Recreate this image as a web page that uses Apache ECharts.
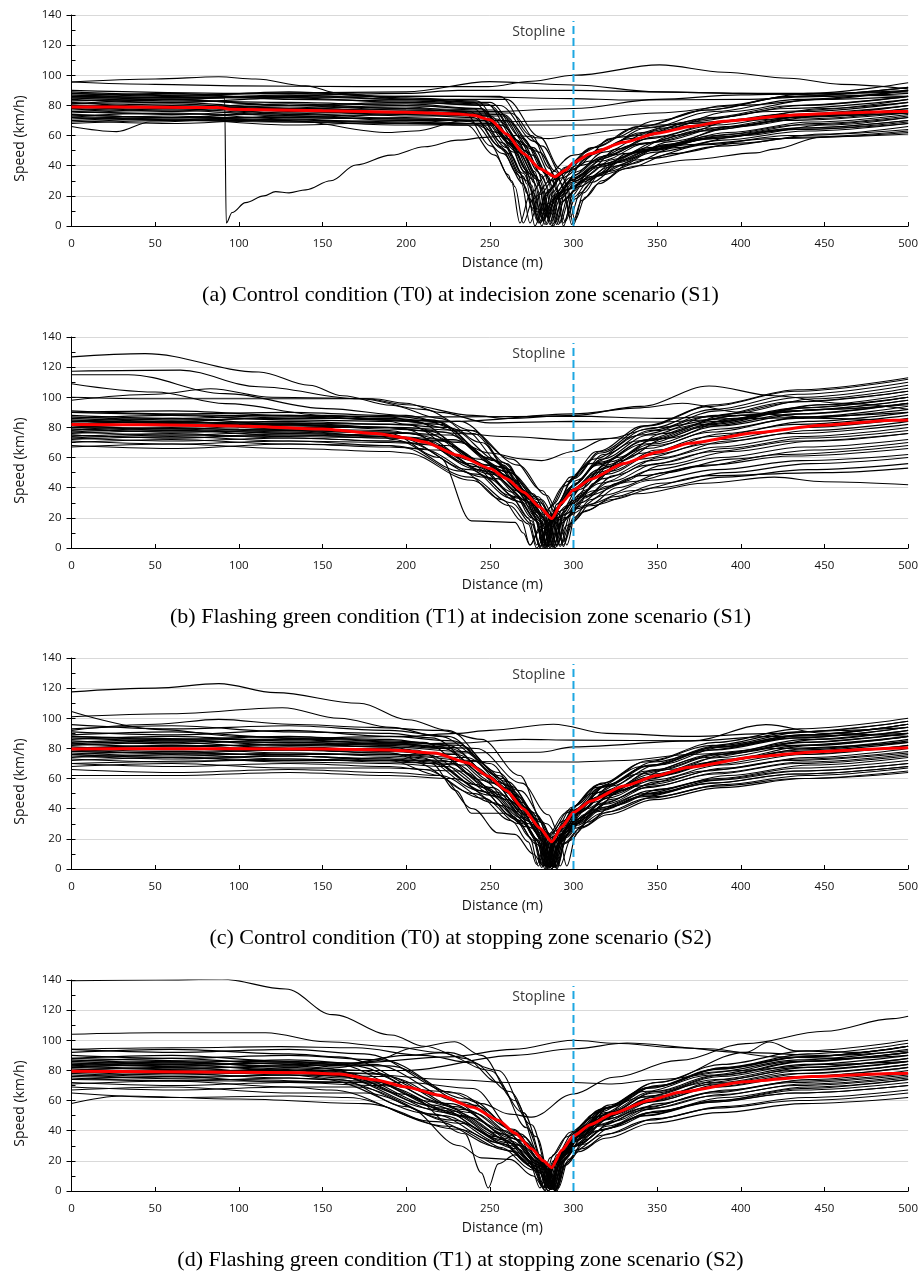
<!DOCTYPE html>
<html><head><meta charset="utf-8">
<script src="https://cdn.jsdelivr.net/npm/echarts@6/dist/echarts.min.js"></script>
<style>html,body{margin:0;padding:0;background:#fff}#c{width:921px;height:1281px}</style>
</head><body><div id="c"></div>
<script>
// ---------- texts ----------
const CAPTIONS = [
  "(a) Control condition (T0) at indecision zone scenario (S1)",
  "(b) Flashing green condition (T1) at indecision zone scenario (S1)",
  "(c) Control condition (T0) at stopping zone scenario (S2)",
  "(d) Flashing green condition (T1) at stopping zone scenario (S2)"
];
const X_NAME = "Distance (m)";
const Y_NAME = "Speed (km/h)";
const STOPLINE_TEXT = "Stopline";
const STOPLINE_X = 300;
const STOPLINE_TOP = 136;
const STOPLINE_LABEL_Y = 129;
const X_MIN = 0, X_MAX = 500, X_STEP = 50;
const Y_MIN = 0, Y_MAX = 140, Y_STEP = 20, Y_MINOR = 10;

// ---------- data: each run = flat list [distance, speed, distance, speed, ...] ----------
// (a) T0, S1
const RUNS_A = [
 [0,88, 60,86, 130,89, 200,85, 242,83, 261,58, 272,37, 275,27, 280,2, 286,24, 296,39, 312,52, 340,66, 380,77, 430,86, 500,92],
 [0,86, 60,88, 130,84, 200,83, 248,81, 266,57, 277,36, 279,30, 284,1, 290,23, 300,38, 316,51, 344,65, 384,76, 434,84, 500,90],
 [0,84, 60,82, 130,85, 200,82, 250,80, 268,56, 279,36, 281,30, 286,3, 292,22, 302,36, 318,49, 346,62, 386,72, 436,80, 500,86],
 [0,83, 60,84, 130,80, 200,81, 245,78, 261.5,55, 271.4,35, 273,30, 278,4, 284,22, 294,35, 310,48, 338,60, 378,71, 428,78, 500,84],
 [0,82, 60,79, 130,81, 200,78, 252,77, 270,54, 281,34, 283,29, 288,0, 294,21, 304,34, 320,47, 348,59, 388,69, 438,76, 500,82],
 [0,81, 60,82, 130,78, 200,79, 238,76, 256,53, 267,34, 269,28, 274,2, 280,21, 290,34, 306,46, 334,58, 374,67, 424,74, 500,80],
 [0,80, 60,78, 130,80, 200,77, 255,76, 273,53, 284,34, 286,28, 291,1, 297,20, 307,33, 323,44, 351,56, 391,66, 441,73, 500,78],
 [0,79, 60,81, 130,77, 200,76, 247,75, 264.5,53, 275,34, 277,28, 282,3, 288,20, 298,32, 314,44, 342,55, 382,65, 432,72, 500,77],
 [0,78, 60,76, 130,79, 200,75, 243,74, 260,52, 270,33, 272,28, 277,0, 283,20, 293,32, 309,43, 337,54, 377,63, 427,70, 500,75],
 [0,77, 60,79, 130,75, 200,76, 258,74, 276,52, 287,33, 289,27, 294,2, 300,19, 310,31, 326,42, 354,53, 394,61, 444,68, 500,73],
 [0,76, 60,74, 130,77, 200,73, 250,73, 267.5,51, 278,33, 280,27, 285,5, 291,19, 301,30, 317,41, 345,52, 385,60, 435,67, 500,72],
 [0,75, 60,77, 130,73, 200,74, 240,72, 258,51, 269,32, 272,22, 276,10, 284,8, 290,20, 300,31, 316,41, 344,51, 384,59, 434,65, 500,70],
 [0,74, 60,72, 130,75, 200,71, 254,71, 271.5,50, 282,32, 284,26, 289,2, 295,18, 305,29, 321,39, 349,49, 389,57, 439,63, 500,68],
 [0,73, 60,75, 130,71, 200,72, 246,70, 264.5,49, 275.6,31, 278,26, 283,1, 289,18, 299,29, 315,39, 343,50, 383,58, 433,64, 500,69],
 [0,72, 60,70, 130,73, 200,70, 260,70, 279.5,49, 291,31, 294,25, 299,1, 305,17, 315,28, 331,38, 359,48, 399,55, 449,61, 500,66],
 [0,71, 60,73, 130,69, 200,70, 244,68, 261.5,48, 272,30, 274,26, 279,2, 285,15, 295,24, 311,33, 339,44, 379,54, 429,60, 500,64],
 [0,70, 60,68, 130,71, 200,68, 252,68, 269.5,48, 280,30, 282,25, 287,0, 293,16, 303,26, 319,36, 347,45, 387,53, 437,59, 500,63],
 [0,69, 60,71, 130,67, 200,69, 236,67, 253,47, 263,30, 265,26, 270,2, 276,18, 286,30, 302,40, 330,48, 370,54, 420,58, 500,62],
 [0,68, 60,70, 130,69, 200,67, 256,67, 275.5,47, 287,30, 290,24, 295,3, 301,18, 311,29, 327,40, 355,54, 395,66, 445,74, 500,80],
 [0,89, 60,87, 130,88, 200,86, 256,86, 275,60, 286,38, 289,31, 294,0, 300,23, 310,38, 326,51, 354,65, 394,76, 444,84, 500,90],
 [0,87, 60,85, 130,86, 200,84, 260,84, 280,59, 292,38, 295,30, 300,1, 306,22, 316,35, 332,48, 360,60, 400,71, 450,78, 500,84],
 [0,85, 60,83, 130,82, 200,80, 240,78, 258,55, 268,35, 271,26, 275,12, 285,10, 291,22, 301,34, 317,46, 345,58, 385,67, 435,74, 500,80],
 [0,81, 60,84, 130,80, 200,82, 256,80, 277,56, 289.6,36, 293,28, 298,6, 304,22, 314,33, 330,44, 358,56, 398,66, 448,73, 500,78],
 [0,79, 60,77, 130,80, 200,78, 234,76, 251,53, 261,34, 263,29, 268,2, 274,21, 284,34, 300,47, 328,59, 368,69, 418,76, 500,82],
 [0,76, 60,78, 130,74, 200,75, 248,73, 266,51, 277,33, 279,27, 284,6, 290,20, 300,32, 316,43, 344,55, 384,64, 434,71, 500,76],
 [0,74, 60,72, 130,76, 200,75, 262,75, 281.5,53, 293,34, 296,27, 301,4, 307,19, 317,30, 333,41, 361,52, 401,60, 451,67, 500,72],
 [0,86, 60,84, 130,87, 200,84, 250,82, 270,58, 282,37, 285,29, 290,1, 296,28, 306,44, 322,58, 350,70, 390,80, 440,88, 500,95],
 [0,78, 60,80, 130,78, 200,80, 244,78, 262.5,55, 273.6,35, 276,29, 281,0, 287,22, 297,36, 313,49, 341,62, 381,72, 431,80, 500,86],
 [0,73, 60,71, 130,72, 200,74, 258,73, 275,51, 285,33, 287,27, 292,2, 298,19, 308,31, 324,42, 352,53, 392,62, 442,69, 500,74],
 [0,70, 60,72, 130,72, 200,71, 248,70, 267,49, 278,31, 281,25, 286,1, 292,18, 302,29, 318,40, 346,50, 386,59, 436,65, 500,70],
 [0,66, 27,62.6, 47,69, 100,71, 150,70, 200,69, 240,68, 258,48, 270,28, 274,18, 280,2, 286,14, 296,24, 312,33, 340,40, 370,44, 409,48.5, 420,51, 448,59, 500,61],
 [0,74, 60,72, 130,70, 190,62, 205,63, 235,70, 255,62, 270,35, 276,22, 282,4, 288,18, 298,30, 314,40, 342,50, 382,58, 432,64, 500,68],
 [0,95.5, 50,97.5, 88,99, 110,97.5, 140,93, 160,88, 200,84, 240,82, 260,58, 271,36, 274,28, 279,4, 285,24, 295,39, 311,52, 339,66, 379,77, 429,86, 500,92],
 [0,95.5, 50,94, 100,93, 171,92.5, 249,92.5, 275,96, 300,100, 351.5,106.9, 390,102, 428.7,98, 460,94, 500,91],
 [0,85, 50,85, 91.5,85, 92.5,2, 96,9, 104,15.5, 115,20, 122,22.8, 130,22, 140,24, 155,30, 170,40.5, 191,47, 211,52.6, 231,57, 249,59, 265,60, 285,58, 300,60, 330,64, 370,68, 420,72, 460,74, 500,75],
 [0,88, 100,86, 200,88, 231,90, 300,90, 350,89, 400,88, 450,87, 500,86],
 [0,90, 100,88, 200,89, 250,95.8, 300,93.6, 350,89, 400,88, 450,88, 500,89],
 [0,72, 100,70, 200,68, 231,67, 300,67, 350,67, 400,70, 450,73, 500,75],
 [0,76, 100,74, 200,71, 250,69, 300,70, 350,75, 400,80, 450,84, 500,86],
 [0,80, 100,78, 200,77, 250,76, 300,78, 350,84, 400,87, 450,88, 500,90],
 [0,86, 100,85, 200,86, 231,86, 300,84.5, 330,83.6, 400,84, 450,86, 500,88]
];
const MEAN_A = [0,79, 50,78.8, 88,78.6, 96,77.4, 150,76.5, 200,75.5, 231,74.3, 240,73.5, 250.5,70.4, 260,61, 270.3,48, 280,38, 289,32.7, 295,37, 300,42, 310,48, 330,55.5, 350,61.5, 370,66, 390,69.5, 430,73.5, 460,75, 491,75.9, 500,76];

// (b) T1, S1
const RUNS_B = [
 [0,91, 60,89, 130,90, 190,88, 215,85, 249.5,60, 270,38, 279,23, 284,1, 290,29, 300,47, 316,64, 344,81, 384,95, 434,105, 500,113],
 [0,90, 60,91, 130,88, 190,87, 205,84, 243.5,59, 266.6,38, 277,21, 282,0, 288,29, 298,47, 314,64, 342,81, 382,94, 432,104, 500,112],
 [0,88, 60,86, 130,88, 190,85, 220,82, 253,58, 272.8,37, 281,23, 286,2, 292,28, 302,45, 318,62, 346,78, 386,91, 436,100, 500,108],
 [0,86, 60,88, 130,85, 190,84, 200,82, 240,58, 264,37, 275,20, 280,1, 286,27, 296,44, 312,59, 340,75, 380,87, 430,97, 500,104],
 [0,85, 60,83, 130,84, 190,82, 225,80, 257,57, 276,36, 284,22, 289,0, 295,26, 305,42, 321,57, 349,72, 389,84, 439,93, 500,100],
 [0,84, 60,86, 130,82, 190,80, 198,79, 238,56, 262,35, 273,20, 278,2, 284,25, 294,41, 310,56, 338,71, 378,82, 428,91, 500,98],
 [0,83, 60,81, 130,83, 190,80, 212,78, 249.5,55, 272,35, 282,20, 287,1, 293,25, 303,40, 319,55, 347,69, 387,81, 437,89, 500,96],
 [0,82, 60,84, 130,81, 190,80, 208,78, 248,55, 272,35, 283,20, 288,1, 294,24, 304,39, 320,54, 348,68, 388,79, 438,87, 500,94],
 [0,81, 60,79, 130,82, 190,79, 222,77, 256,54, 276.4,34, 285,21, 290,2, 296,23, 306,38, 322,51, 350,65, 390,76, 440,84, 500,90],
 [0,80, 60,82, 130,79, 190,78, 202,76, 242,54, 266,34, 277,19, 282,1, 288,23, 298,37, 314,50, 342,63, 382,74, 432,82, 500,88],
 [0,79, 60,77, 130,78, 190,77, 214,75, 251,53, 273,34, 283,19, 288,0, 294,22, 304,36, 320,49, 348,62, 388,72, 438,80, 500,86],
 [0,78, 60,80, 130,77, 190,77, 226,75, 259,53, 279,34, 287,21, 292,2, 298,22, 308,35, 324,48, 352,60, 392,71, 442,78, 500,84],
 [0,77, 60,75, 130,77, 190,74, 196,73, 238,52, 263,33, 275,18, 280,0, 286,21, 296,34, 312,47, 340,59, 380,69, 430,76, 500,82],
 [0,76, 60,78, 130,75, 190,74, 210,72, 248,51, 271,32, 281,18, 286,1, 292,21, 302,34, 318,46, 346,58, 386,67, 436,74, 500,80],
 [0,75, 60,73, 130,75, 190,73, 220,71, 255,50, 276,32, 285,19, 290,1, 296,20, 306,33, 322,44, 350,56, 390,66, 440,73, 500,78],
 [0,74, 60,76, 130,73, 190,71, 200,70, 242,49, 267,31, 279,17, 284,0, 290,20, 300,32, 316,43, 344,55, 384,64, 434,71, 500,76],
 [0,73, 60,71, 130,73, 190,71, 214,69, 251,49, 273,31, 283,18, 288,1, 294,19, 304,30, 320,41, 348,52, 388,60, 438,67, 500,72],
 [0,72, 60,74, 130,71, 190,70, 224,68, 259,48, 280,30, 289,18, 294,2, 300,18, 310,29, 326,40, 354,50, 394,59, 444,65, 500,70],
 [0,71, 60,69, 130,71, 190,68, 196,67, 238,47, 263,30, 275,16, 280,1, 286,17, 296,28, 312,38, 340,48, 380,55, 430,61, 500,66],
 [0,70, 60,72, 130,69, 190,68, 208,66, 247,47, 270,30, 281,17, 286,0, 292,16, 302,26, 318,35, 346,45, 386,52, 436,58, 500,62],
 [0,68, 60,66, 130,69, 190,67, 218,65, 254,46, 275.6,29, 285,17, 290,2, 296,15, 306,24, 322,32, 350,40, 390,47, 440,52, 500,56],
 [0,67, 60,69, 130,66, 190,64, 200,63, 239,45, 262,28, 273,16, 278,0, 284,12, 294,20, 310,28, 338,36, 378,43, 420,47, 450,44, 500,42],
 [0,80, 60,78, 130,79, 190,76, 220,60, 239,18, 265,17, 270,10, 274,2, 280,12, 290,20, 306,28, 334,38, 381,48, 450,50, 500,53],
 [0,86, 60,84, 130,87, 190,85, 232,84, 263,59, 281.6,38, 289,24, 294,1, 300,28, 310,45, 326,60, 354,76, 394,89, 444,99, 500,106],
 [0,82, 60,84, 130,80, 190,80, 238,78, 267,55, 284,35, 291,23, 296,2, 302,27, 312,43, 328,58, 356,73, 396,86, 446,95, 500,102],
 [0,79, 60,77, 130,78, 185,74, 192,72, 233,51, 257.6,32, 269,18, 274,2, 280,14, 290,24, 306,34, 334,44, 374,54, 424,62, 500,68],
 [0,73, 60,75, 130,74, 190,73, 230,71, 262,50, 281,32, 289,20, 294,4, 300,20, 310,32, 326,43, 354,55, 394,64, 444,71, 500,76],
 [0,87, 60,85, 130,86, 190,86, 218,84, 251,59, 271,38, 279,23, 284,1, 290,29, 300,46, 316,63, 344,79, 384,92, 434,102, 500,110],
 [0,77, 60,79, 130,76, 190,75, 204,73, 243.5,52, 267,33, 278,18, 283,0, 289,24, 299,39, 315,52, 343,66, 383,77, 433,86, 500,92],
 [0,75, 60,73, 130,76, 190,74, 228,72, 260,51, 279,32, 287,20, 292,1, 298,16, 308,25, 324,34, 352,43, 392,50, 442,56, 500,60],
 [0,126.8, 44,129, 112,116.8, 142,108, 162,101, 191,94.7, 220,86, 245,70, 265,45, 278,22, 285,1, 291,27, 301,43, 317,59, 345,75, 385,88, 435,97, 500,104],
 [0,117.3, 65,118, 112,107, 172,99, 210,92, 240,78, 260,56, 274,32, 279,20, 284,2, 290,26, 300,42, 316,57, 344,72, 384,84, 434,93, 500,100],
 [0,115, 34,115, 92,102.4, 152,92.5, 200,88, 235,78, 258,55, 272,32, 277,20, 282,2, 288,25, 298,40, 314,55, 342,69, 382,81, 432,89, 500,96],
 [0,109, 50,103.5, 92,95.8, 152,88, 200,84, 240,76, 262,52, 274,30, 278,18, 283,2, 289,25, 299,41, 315,56, 343,71, 383,82, 433,91, 500,98],
 [0,100, 50,99, 100,99, 176,99, 200,95, 240,88, 260,86, 300,88, 340,94, 381,107.5, 420,101, 460,96, 500,92],
 [0,98, 50,102, 83,105.7, 120,100, 180,99, 200,96, 220,90, 250,83, 300,84, 350,83.6, 400,86, 500,90],
 [0,90, 100,88, 200,87, 230,87, 300,87.5, 350,86, 400,88, 450,92, 500,95],
 [0,84, 100,83, 200,82, 230,84, 300,89, 340,93, 365,96, 400,90, 450,86, 500,84],
 [0,80, 100,79, 200,76, 231,70, 250,63, 270,59, 281,58, 300,64, 320,72.6, 350,80, 400,88, 450,92, 500,96],
 [0,84, 100,82, 200,80, 231,76, 260,74, 300,71.5, 330,73, 350,78, 400,88, 450,95, 500,100]
];
const MEAN_B = [0,81.9, 50,81.7, 100,81, 150,79, 182,75.9, 200,73, 211,70.4, 231,61.5, 250.5,52.6, 260,46, 270.3,37, 280,27, 287,19.5, 293,30, 300,38.5, 310,45.5, 330,56, 350,63.5, 369.3,69.5, 409,76.5, 448.5,81.4, 491,84.7, 500,85];

// (c) T0, S2
const RUNS_C = [
 [0,95.8, 60,93, 130,95, 190,92, 225,88, 255,62, 273,39, 280,25, 285,1, 291,26, 301,42, 317,57, 345,72, 385,84, 435,93, 500,100],
 [0,93, 60,95, 130,91, 190,90, 215,87, 249,62, 269,39, 278,24, 283,2, 289,25, 299,41, 315,56, 343,71, 383,82, 433,91, 500,98],
 [0,91, 60,89, 130,92, 190,88, 228,85, 257.5,60, 275,38, 282,25, 287,0, 293,25, 303,40, 319,55, 347,69, 387,81, 437,89, 500,96],
 [0,89, 60,91, 130,87, 190,86, 210,84, 245.5,59, 267,38, 276,22, 281,3, 287,24, 297,39, 313,54, 341,68, 381,79, 431,87, 500,94],
 [0,88, 60,86, 130,88, 190,85, 232,82, 260.5,58, 277.6,37, 284,24, 289,1, 295,24, 305,39, 321,52, 349,66, 389,77, 439,86, 500,92],
 [0,86, 60,88, 130,85, 190,84, 220,81, 252,57, 271,36, 279,23, 284,2, 290,23, 300,38, 316,51, 344,65, 384,76, 434,84, 500,90],
 [0,85, 60,83, 130,86, 190,83, 226,80, 256.5,57, 275,36, 282,23, 287,0, 293,23, 303,37, 319,50, 347,63, 387,74, 437,82, 500,88],
 [0,84, 60,86, 130,82, 190,81, 205,79, 242,56, 264,35, 274,21, 279,2, 285,23, 295,37, 311,50, 339,63, 379,74, 429,82, 500,88],
 [0,83, 60,81, 130,83, 190,81, 235,78, 262.5,55, 279,35, 285,24, 290,1, 296,22, 306,36, 322,49, 350,62, 390,72, 440,80, 500,86],
 [0,82, 60,84, 130,80, 190,80, 218,77, 251.5,54, 271.6,34, 280,21, 285,2, 291,22, 301,36, 317,48, 345,61, 385,71, 435,79, 500,85],
 [0,81, 60,79, 130,81, 190,79, 212,76, 247.5,54, 269,34, 278,20, 283,0, 289,22, 299,35, 315,48, 343,60, 383,71, 433,78, 500,84],
 [0,80, 60,82, 130,79, 190,78, 230,76, 259,54, 276,34, 283,22, 288,2, 294,21, 304,34, 320,47, 348,59, 388,69, 438,76, 500,82],
 [0,79, 60,77, 130,79, 190,77, 208,74, 244.5,52, 266,33, 276,19, 281,1, 287,21, 297,34, 313,47, 341,59, 381,69, 431,76, 500,82],
 [0,78, 60,80, 130,77, 190,76, 236,74, 263,52, 279,33, 285,22, 290,0, 296,21, 306,34, 322,46, 350,58, 390,67, 440,74, 500,80],
 [0,77, 60,75, 130,77, 190,75, 222,72, 254,51, 273,32, 281,20, 286,1, 292,20, 302,33, 318,44, 346,56, 386,66, 436,73, 500,78],
 [0,76, 60,78, 130,75, 190,73, 204,71, 241,50, 263,32, 273,18, 278,3, 284,20, 294,32, 310,44, 338,55, 378,65, 428,72, 500,77],
 [0,75, 60,73, 130,75, 190,73, 228,70, 257.5,49, 275,31, 282,20, 287,2, 293,20, 303,32, 319,43, 347,55, 387,64, 437,71, 500,76],
 [0,74, 60,76, 130,73, 190,72, 216,70, 250,49, 270,31, 279,19, 284,0, 290,20, 300,32, 316,43, 344,54, 384,63, 434,70, 500,75],
 [0,73, 60,71, 130,73, 190,71, 238,69, 265,49, 281,31, 287,21, 292,2, 298,19, 308,31, 324,42, 352,53, 392,62, 442,69, 500,74],
 [0,72, 60,74, 130,71, 190,70, 224,68, 255,48, 273.6,30, 281,19, 286,1, 292,19, 302,30, 318,41, 346,52, 386,60, 436,67, 500,72],
 [0,70, 60,68, 130,70, 190,68, 210,66, 246,47, 267.6,30, 277,17, 282,2, 288,18, 298,29, 314,40, 342,50, 382,59, 432,65, 500,70],
 [0,68, 60,70, 130,67, 190,67, 232,65, 260.5,46, 277.6,29, 284,19, 289,1, 295,17, 305,28, 321,38, 349,48, 389,56, 439,62, 500,67],
 [0,66, 60,64, 130,66, 190,64, 220,62, 252.5,44, 272,28, 280,17, 285,0, 291,17, 301,27, 317,37, 345,47, 385,55, 435,60, 500,65],
 [0,62, 60,62, 130,64, 190,62, 228,60, 258,42, 276,27, 283,17, 288,1, 294,17, 304,27, 320,36, 348,46, 388,54, 438,60, 500,64],
 [0,80, 60,78, 130,79, 190,77, 215,70, 230,52, 239,37, 258,37, 270,30, 280,15, 286,1, 292,18, 302,29, 318,40, 346,50, 386,59, 436,65, 500,70],
 [0,76, 60,74, 130,75, 190,72, 220,62, 240,40, 255,24, 265,23, 276,10, 282,2, 288,17, 298,28, 314,38, 342,48, 382,57, 432,63, 500,68],
 [0,78, 60,77, 130,76, 190,76, 240,72, 268,52, 284,30, 292,20, 298,30, 308,40, 324,51, 352,62, 392,73, 442,82, 500,88],
 [0,87, 60,85, 130,84, 190,83, 242,80, 269,57, 285,36, 291,24, 296,2, 302,24, 312,39, 328,52, 356,66, 396,77, 446,86, 500,92],
 [0,83, 60,85, 130,84, 190,82, 222,80, 254,57, 273,36, 281,22, 286,1, 292,25, 302,40, 318,55, 346,69, 386,81, 436,89, 500,96],
 [0,76, 60,74, 130,72, 190,74, 214,72, 248.5,51, 269,32, 278,19, 283,2, 289,18, 299,29, 315,39, 343,49, 383,57, 433,63, 500,68],
 [0,117.5, 50,120, 88,123, 122,117, 172,110, 201,99, 225,92, 255,64, 273,40, 280,26, 288,2, 294,25, 304,41, 320,56, 348,71, 388,82, 438,91, 500,98],
 [0,104.5, 53,92.5, 100,88, 150,86, 200,84, 225,82, 255,58, 274,34, 280,20, 284,1, 290,24, 300,39, 316,54, 344,68, 384,79, 434,87, 500,94],
 [0,101, 60,103, 126,107, 160,100, 191,94, 220,88, 250,70, 270,44, 280,24, 288,1, 294,23, 304,38, 320,51, 348,65, 388,76, 438,84, 500,90],
 [0,92, 50,96, 88,99.3, 130,96, 180,94, 220,92, 245,86, 268,62, 282,30, 290,2, 296,25, 306,40, 322,55, 350,69, 390,81, 440,89, 500,96],
 [0,88, 100,86, 200,88, 230,90, 250,92, 288,96, 320,90, 370,88, 420,90, 460,92, 500,94],
 [0,80, 100,82, 200,83, 230,83.5, 270,86, 300,85.5, 370,85, 420,88, 500,90],
 [0,78, 100,76, 200,76, 230,77, 280,77.5, 300,81, 370,85, 415,95.8, 450,90, 500,88],
 [0,70, 100,72, 200,72, 230,71.3, 300,71, 330,72, 370,76, 420,80, 500,84]
];
const MEAN_C = [0,79.6, 50,79.8, 100,79.8, 150,79.6, 191,79, 217,77, 237,70.4, 249,61.5, 260,52, 270,40, 280,27, 287,18, 293,28, 300,37.5, 310,45, 330,55, 350,62, 369,67.5, 409,74.5, 448,78, 491,80.2, 500,80.4];

// (d) T1, S2
const RUNS_D = [
 [0,94, 60,92, 130,94, 175,91, 230,65, 264,41, 280,21, 286,1, 292,25, 302,40, 318,55, 346,69, 386,81, 436,89, 500,96],
 [0,92, 60,94, 130,91, 160,89, 222,63, 259,40, 278,20, 284,2, 290,24, 300,39, 316,54, 344,68, 384,79, 434,87, 500,94],
 [0,90, 60,88, 130,90, 185,87, 237,61, 268,38, 283,20, 289,0, 295,24, 305,39, 321,52, 349,66, 389,77, 439,86, 500,92],
 [0,88, 60,90, 130,86, 155,85, 218,59, 257,38, 276,19, 282,3, 288,24, 298,39, 314,52, 342,66, 382,77, 432,86, 500,92],
 [0,87, 60,85, 130,87, 180,84, 234,59, 266,37, 282,19, 288,1, 294,23, 304,38, 320,51, 348,65, 388,76, 438,84, 500,90],
 [0,86, 60,88, 130,84, 168,83, 226,58, 262,37, 279,19, 285,2, 291,23, 301,37, 317,50, 345,63, 385,74, 435,82, 500,88],
 [0,85, 60,83, 130,85, 190,83, 240,57, 270,36, 284,18, 290,0, 296,23, 306,37, 322,50, 350,63, 390,74, 440,82, 500,88],
 [0,84, 60,86, 130,82, 152,81, 216,57, 254,36, 274,18, 280,2, 286,22, 296,36, 312,49, 340,62, 380,72, 430,80, 500,86],
 [0,83, 60,81, 130,83, 172,80, 229,56, 264,35, 281,18, 287,1, 293,22, 303,36, 319,49, 347,62, 387,72, 437,80, 500,86],
 [0,82, 60,84, 130,80, 160,79, 222,55, 259,35, 278,18, 284,2, 290,22, 300,35, 316,48, 344,60, 384,71, 434,78, 500,84],
 [0,81, 60,79, 130,81, 182,78, 235,54, 268,34, 283,17, 289,0, 295,22, 305,35, 321,48, 349,60, 389,71, 439,78, 500,84],
 [0,80, 60,82, 130,78, 155,77, 219,54, 258,34, 277,17, 283,2, 289,21, 299,34, 315,47, 343,59, 383,69, 433,76, 500,82],
 [0,79, 60,77, 130,79, 170,76, 228,53, 263,33, 280,17, 286,1, 292,21, 302,34, 318,47, 346,59, 386,69, 436,76, 500,82],
 [0,78, 60,80, 130,77, 188,76, 239,52, 270,33, 285,16, 291,2, 297,21, 307,34, 323,46, 351,58, 391,67, 441,74, 500,80],
 [0,77, 60,75, 130,77, 165,75, 225,52, 261,32, 279,16, 285,0, 291,20, 301,33, 317,44, 345,56, 385,66, 435,73, 500,78],
 [0,76, 60,78, 130,75, 150,74, 216,51, 256,32, 276,16, 282,2, 288,20, 298,32, 314,44, 342,55, 382,65, 432,72, 500,77],
 [0,75, 60,73, 130,75, 178,73, 233,50, 266,31, 282,16, 288,1, 294,20, 304,32, 320,43, 348,55, 388,64, 438,71, 500,76],
 [0,74, 60,76, 130,72, 162,72, 222,50, 259,31, 277,15, 283,0, 289,20, 299,32, 315,43, 343,54, 383,63, 433,70, 500,75],
 [0,72, 60,70, 130,72, 185,70, 237,49, 269,30, 284,15, 290,2, 296,19, 306,31, 322,42, 350,53, 390,62, 440,69, 500,74],
 [0,71, 60,73, 130,69, 170,69, 228,47, 263,30, 280,15, 286,1, 292,19, 302,30, 318,41, 346,52, 386,60, 436,67, 500,72],
 [0,69, 60,67, 130,69, 155,67, 218,46, 256,29, 276,14, 282,2, 288,18, 298,29, 314,40, 342,50, 382,59, 432,65, 500,70],
 [0,67, 60,69, 130,65, 175,65, 232,45, 266,28, 283,14, 289,1, 295,17, 305,28, 321,38, 349,48, 389,56, 439,62, 500,67],
 [0,65, 60,62, 130,63, 165,62, 225,43, 261,27, 279,14, 285,0, 291,17, 301,27, 317,37, 345,47, 385,55, 435,60, 500,65],
 [0,58, 30,63, 100,61, 175,58, 231,41, 265,26, 281,13, 287,2, 293,16, 303,26, 319,35, 347,45, 387,52, 437,58, 500,62],
 [0,80, 60,78, 130,79, 160,76, 200,64, 235,38, 245,12, 249,2, 255,18, 265,24, 280,12, 286,1, 292,19, 302,30, 318,41, 346,52, 386,60, 436,68, 500,74],
 [0,86, 60,84, 130,85, 160,82, 180,86, 205,95, 229,99, 245,90, 265,60, 280,24, 287,1, 293,24, 303,39, 319,52, 347,66, 387,77, 437,86, 500,92],
 [0,78, 60,76, 130,77, 160,74, 200,56, 232,30, 245,22, 262,21, 276,10, 283,1, 289,18, 299,29, 315,40, 343,50, 383,59, 433,65, 500,70],
 [0,83, 60,85, 130,83, 160,84, 200,90, 225,92, 255,80, 275,44, 285,14, 290,1, 296,25, 306,41, 322,56, 350,70, 390,82, 440,91, 500,98],
 [0,139.5, 50,140, 90,140.5, 128,134, 156,117, 191,103.5, 211,96, 235,88, 255,72, 272,42, 284,12, 289,1, 295,26, 305,42, 321,57, 349,72, 389,84, 439,93, 500,100],
 [0,104, 50,105, 116,105, 152,99, 191,95.8, 220,92, 250,80, 270,52, 284,14, 288,1, 294,25, 304,40, 320,55, 348,69, 388,81, 438,89, 500,96],
 [0,94, 60,95, 125,95.8, 170,95, 210,90, 240,85, 262,66, 278,36, 287,3, 293,25, 303,40, 319,55, 347,69, 387,81, 437,89, 500,96],
 [0,88, 100,86, 170,85, 225,89, 264,94, 300,100, 325,98, 363,95, 400,92, 450,90, 500,93],
 [0,82, 100,80, 200,80, 265,90, 300,94.4, 332,98.2, 380,94.4, 420,89, 460,88, 500,90],
 [0,84, 100,82, 170,78, 225,74, 264,72, 300,72, 323,71, 350,74, 400,80, 450,84, 500,86],
 [0,76, 100,74, 170,72, 225,66, 245,58, 262,51, 275,49, 300,64.4, 324,75.5, 363,86.7, 403,97.8, 450,106, 491,114.4, 500,116],
 [0,74, 100,73, 200,72, 240,68, 265,40, 280,12, 286,2, 294,24, 308,44, 350,72, 403,92, 417,98.9, 433,93, 470,92, 500,96]
];
const MEAN_D = [0,79.4, 50,79.2, 100,78.8, 140,78.4, 160,77.6, 182,73.6, 200,69, 220,63.5, 240,55.5, 255,47, 265,38.5, 275,28, 282,20, 287,15.5, 293,27, 300,36.5, 310,44, 323.8,51.5, 345,60, 363.4,65.5, 403,72.5, 442.6,76, 491,78, 500,78.2];

// ---------- build ----------
const PANELS = [
  {runs: RUNS_A, mean: MEAN_A},
  {runs: RUNS_B, mean: MEAN_B},
  {runs: RUNS_C, mean: MEAN_C},
  {runs: RUNS_D, mean: MEAN_D}
];
function pairs(flat){const out=[];for(let i=0;i<flat.length;i+=2)out.push([flat[i],flat[i+1]]);return out;}

const FONT = "'Open Sans', 'Noto Sans', sans-serif";
const GRID_TOPS = [15, 337, 658, 980];
const GRID_H = 211;
const CAP_CENTERS = [296, 618, 939, 1261];
const CAP_SIZE = 22;

const grids = [], xAxes = [], yAxes = [], series = [], titles = [];
PANELS.forEach((p, i) => {
  grids.push({left: 71.5, right: 7.5, top: GRID_TOPS[i], height: GRID_H});
  xAxes.push({
    type: 'value', gridIndex: i, min: X_MIN, max: X_MAX, interval: X_STEP,
    axisLine: {show: true, lineStyle: {color: '#000', width: 1}},
    axisTick: {show: true, inside: true, length: 4, lineStyle: {color: '#000'}},
    axisLabel: {fontSize: 11.5, color: '#111', margin: 12, fontFamily: FONT},
    splitLine: {show: false},
    name: X_NAME, nameLocation: 'middle', nameGap: 30,
    nameTextStyle: {fontSize: 14, color: '#111', fontFamily: FONT, padding: [0, 0, 0, 25]}
  });
  yAxes.push({
    type: 'value', gridIndex: i, min: Y_MIN, max: Y_MAX, interval: Y_STEP, position: 'left',
    axisLine: {show: true, lineStyle: {color: '#000', width: 1}},
    axisTick: {show: true, length: 5, lineStyle: {color: '#000'}},
    axisLabel: {fontSize: 11.5, color: '#111', margin: 10, fontFamily: FONT},
    splitLine: {show: true, lineStyle: {color: '#d9d9d9', width: 1}},
    name: Y_NAME, nameLocation: 'middle', nameGap: 44, nameRotate: 90,
    nameTextStyle: {fontSize: 14, color: '#111', fontFamily: FONT, padding: [0, 36, 0, 0]}
  });
  yAxes.push({
    type: 'value', gridIndex: i, min: Y_MIN, max: Y_MAX, interval: Y_MINOR, position: 'left', offset: 0,
    axisLine: {show: false}, axisLabel: {show: false}, splitLine: {show: false},
    axisTick: {show: true, inside: true, length: 4, lineStyle: {color: '#000'}}
  });
  p.runs.forEach(r => series.push({
    type: 'line', xAxisIndex: i, yAxisIndex: 2*i, data: pairs(r),
    symbol: 'none', smooth: 0.35, smoothMonotone: 'x', silent: true, z: 2,
    lineStyle: {color: '#000', width: 1.1}
  }));
  series.push({
    type: 'line', xAxisIndex: i, yAxisIndex: 2*i, data: pairs(p.mean),
    symbol: 'none', smooth: 0.2, smoothMonotone: 'x', silent: true, z: 3,
    lineStyle: {color: '#ff0000', width: 3}
  });
  series.push({
    type: 'line', xAxisIndex: i, yAxisIndex: 2*i, data: [[STOPLINE_X, Y_MIN], [STOPLINE_X, STOPLINE_TOP]],
    symbol: 'none', silent: true, z: 4,
    lineStyle: {color: '#1ea7e1', width: 2, type: [8, 4]}
  });
  series.push({
    type: 'scatter', xAxisIndex: i, yAxisIndex: 2*i, data: [[STOPLINE_X, STOPLINE_LABEL_Y]],
    symbolSize: 0, silent: true, z: 5,
    label: {show: true, position: 'left', distance: 8, formatter: STOPLINE_TEXT, fontSize: 14, color: '#000', fontFamily: FONT}
  });
  titles.push({
    text: CAPTIONS[i], left: 'center', top: CAP_CENTERS[i] - CAP_SIZE/2 - 1, padding: 0,
    textStyle: {fontFamily: "'Liberation Serif', 'Times New Roman', serif", fontSize: CAP_SIZE, fontWeight: 'normal', color: '#000'}
  });
});

const chart = echarts.init(document.getElementById('c'), null, {renderer: 'canvas'});
chart.setOption({
  animation: false, backgroundColor: '#fff',
  title: titles, grid: grids, xAxis: xAxes, yAxis: yAxes, series: series
});
</script></body></html>
